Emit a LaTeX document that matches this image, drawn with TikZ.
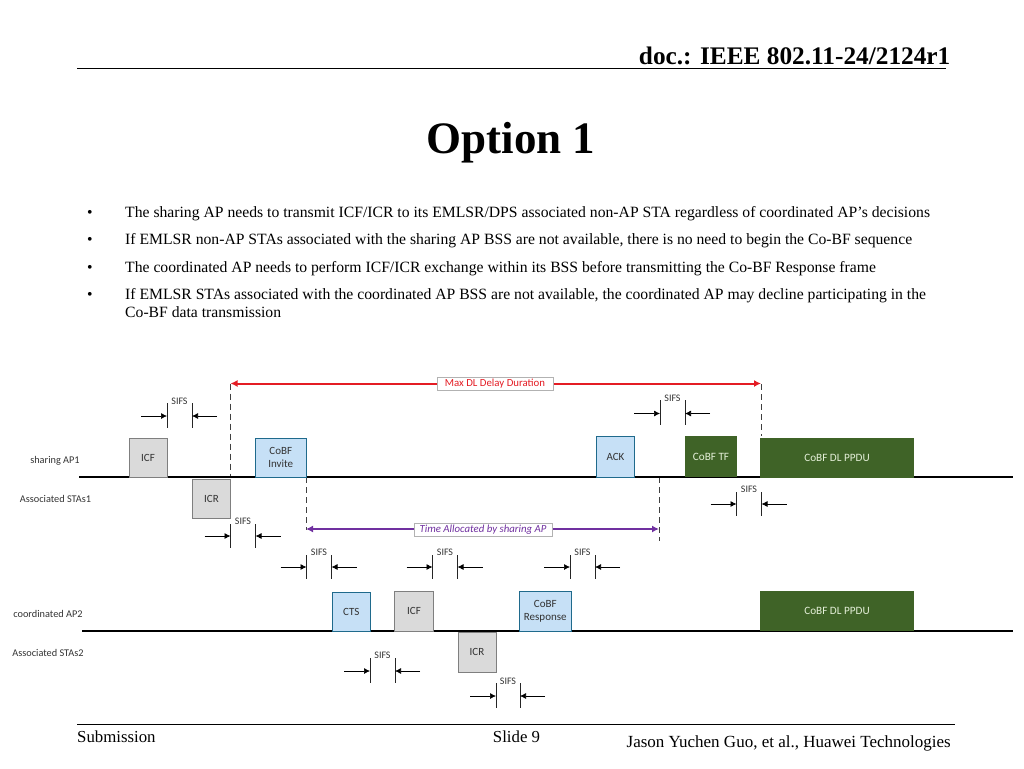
\documentclass[tikz,border=0pt]{standalone}
\usepackage{fontspec}
\setmainfont{Liberation Serif}
\newfontfamily\dfont{Carlito}
\usetikzlibrary{arrows.meta}
\newcommand{\fsz}[1]{\fontsize{#1}{#1}\selectfont}
\definecolor{gfill}{HTML}{DADADA}
\definecolor{gedge}{HTML}{7F7F7F}
\definecolor{bfill}{HTML}{C6E0F6}
\definecolor{bedge}{HTML}{1F6A8C}
\definecolor{dgreen}{HTML}{3F6327}
\definecolor{gtext}{HTML}{E4EFD8}
\definecolor{spred}{HTML}{E41C24}
\definecolor{sppurple}{HTML}{7030A0}
\definecolor{dtext}{HTML}{333333}
\tikzset{
  x=1pt,y=-1pt,
  body/.style={anchor=base west,inner sep=0,font=\fsz{15.68}},
  greybox/.style={draw=gedge,fill=gfill,line width=1pt,inner sep=0,align=center,font=\dfont\fsz{11},text=dtext},
  bluebox/.style={draw=bedge,fill=bfill,line width=1pt,inner sep=0,align=center,font=\dfont\fsz{11},text=dtext},
  greenbox/.style={draw=none,fill=dgreen,inner sep=0,align=center,font=\dfont\fsz{11.2},text=gtext},
  tl/.style={line width=2.6pt,black},
  rowlab/.style={inner sep=0,font=\dfont\fsz{10.3},text=dtext},
  sifslab/.style={inner sep=0,font=\dfont\fsz{10},text=dtext},
  tickline/.style={line width=.7pt,black!85},
  sarrow/.style={line width=.7pt,black,-{Latex[length=6pt,width=6pt]}},
  dashguide/.style={line width=.7pt,black!75,dash pattern=on 6pt off 4pt},
  spanline/.style={line width=2pt},
  spanlab/.style={draw=black!30,fill=white,line width=.7pt,inner sep=0,font=\dfont\fsz{10.8}},
}
% #1 name, #2 left x, #3 right x, #4 top y, #5 bottom y, #6 arrow y, #7 label y
\newcommand{\sifs}[7]{%
  \coordinate (#1lt) at (#2,#4); \coordinate (#1lb) at (#2,#5);
  \coordinate (#1rt) at (#3,#4); \coordinate (#1rb) at (#3,#5);
  \coordinate (#1la) at (#2,#6); \coordinate (#1ra) at (#3,#6);
  \coordinate (#1ls) at (#2-26,#6); \coordinate (#1rs) at (#3+25,#6);
  \draw[tickline] (#1lt) -- (#1lb);
  \draw[tickline] (#1rt) -- (#1rb);
  \draw[sarrow] (#1ls) -- (#1la);
  \draw[sarrow] (#1rs) -- (#1ra);
  \node[sifslab] (#1lab) at ({(#2+#3)/2},#7) {SIFS};
}
% #1 style, #2 name, #3 x1, #4 y1, #5 x2, #6 y2, #7 text
\newcommand{\frm}[7]{%
  \node[#1,minimum width={(#5)-(#3)},minimum height={(#6)-(#4)}] (#2) at ({((#3)+(#5))/2},{((#4)+(#6))/2}) {#7};
}
\begin{document}
\begin{tikzpicture}
\useasboundingbox (0,0) rectangle (1024,768);
% header & footer
\coordinate (hl) at (77,68.5); \coordinate (hr) at (946,68.5);
\coordinate (fl) at (77,724.5); \coordinate (fr) at (955,724.5);
\draw[line width=1pt] (hl) -- (hr);
\draw[line width=1.2pt] (fl) -- (fr);
\node[anchor=base east,inner sep=0,font=\bfseries\fsz{25.3}] (doc) at (950.5,64.5) {doc.: IEEE 802.11-24/2124r1};
\node[anchor=base,inner sep=0,font=\bfseries\fsz{45}] (title) at (511,153) {Option 1};
\node[anchor=base west,inner sep=0,font=\fsz{16.8}] (sub) at (77,742) {Submission};
\node[anchor=base,inner sep=0,font=\fsz{16.8}] (slide) at (516.5,742) {Slide 9};
\node[anchor=base east,inner sep=0,font=\fsz{17}] (auth) at (951,747) {Jason Yuchen Guo, et al., Huawei Technologies};
% bullets
\node[body] (b1) at (87,217) {•};
\node[body] (b2) at (87,244.5) {•};
\node[body] (b3) at (87,272) {•};
\node[body] (b4) at (87,299) {•};
\node[body] (t1) at (125,217) {The sharing AP needs to transmit ICF/ICR to its EMLSR/DPS associated non-AP STA regardless of coordinated AP’s decisions};
\node[body] (t2) at (125,244.5) {If EMLSR non-AP STAs associated with the sharing AP BSS are not available, there is no need to begin the Co-BF sequence};
\node[body] (t3) at (125,272) {The coordinated AP needs to perform ICF/ICR exchange within its BSS before transmitting the Co-BF Response frame};
\node[body] (t4) at (125,299) {If EMLSR STAs associated with the coordinated AP BSS are not available, the coordinated AP may decline participating in the};
\node[body] (t5) at (125,317) {Co-BF data transmission};
% timelines
\coordinate (a1) at (79,477); \coordinate (a2) at (1013,477);
\coordinate (c1) at (82,631); \coordinate (c2) at (1013,631);
% dashed guides
\coordinate (d1t) at (230.5,383.5); \coordinate (d1b) at (230.5,477);
\coordinate (d2t) at (306,477); \coordinate (d2b) at (306,530);
\coordinate (d3t) at (659,477); \coordinate (d3b) at (659,541);
\coordinate (d4t) at (761,384); \coordinate (d4b) at (761,436);
\draw[dashguide] (d1t) -- (d1b);
\draw[dashguide] (d2t) -- (d2b);
\draw[dashguide] (d3t) -- (d3b);
\draw[dashguide] (d4t) -- (d4b);
\draw[tl] (a1) -- (a2);
\draw[tl] (c1) -- (c2);
% frames AP1
\frm{greybox}{icfa}{129}{438}{167}{477}{ICF}
\frm{bluebox}{invite}{255.5}{438}{306}{477}{CoBF\\[1.5pt]Invite}
\frm{greybox}{icra}{192.5}{479}{230.5}{518}{ICR}
\frm{bluebox}{ack}{596.5}{436.5}{634.5}{477}{ACK}
\frm{greenbox}{tf}{685}{436}{737}{477}{CoBF TF}
\frm{greenbox}{ppdua}{760}{438}{914}{478}{CoBF DL PPDU}
% frames AP2
\frm{bluebox}{cts}{332.5}{592}{370}{631}{CTS}
\frm{greybox}{icfc}{394.5}{591.5}{433.5}{631}{ICF}
\frm{bluebox}{resp}{519.5}{591.5}{571}{631}{CoBF\\[1.5pt]Response}
\frm{greybox}{icrc}{458}{632.5}{496}{672}{ICR}
\frm{greenbox}{ppduc}{760}{591}{914}{631}{CoBF DL PPDU}
% row labels
\node[rowlab] (ra1) at (55,461) {sharing AP1};
\node[rowlab] (rs1) at (55.5,499) {Associated STAs1};
\node[rowlab] (ra2) at (48,613.5) {coordinated AP2};
\node[rowlab] (rs2) at (48,652.5) {Associated STAs2};
% spans
\coordinate (m1) at (230.5,383.5); \coordinate (m2) at (761,383.5);
\coordinate (p1) at (306,529); \coordinate (p2) at (659,529);
\draw[spanline,spred,{Latex[length=7pt,width=7pt]}-{Latex[length=7pt,width=7pt]}] (m1) -- (m2);
\draw[spanline,sppurple,{Latex[length=7pt,width=7pt]}-{Latex[length=7pt,width=7pt]}] (p1) -- (p2);
\node[spanlab,text=spred,minimum width=116pt,minimum height=13pt] (mlab) at (495,384) {Max DL Delay Duration};
\node[spanlab,text=sppurple,minimum width=138pt,minimum height=13pt] (plab) at (483,529.5) {\itshape Time Allocated by sharing AP};
% SIFS markers
\sifs{sa}{167}{192}{403}{428}{416}{401}
\sifs{sb}{230.5}{255.5}{524}{548}{536}{521}
\sifs{sc}{306.5}{331.5}{555}{579}{567}{552}
\sifs{sd}{432.5}{457.5}{555}{579}{567}{552}
\sifs{se}{570}{595}{555}{579}{567}{552}
\sifs{sf}{660}{685}{400}{425}{413.5}{398}
\sifs{sg}{736.5}{761.5}{492}{516}{504}{489}
\sifs{sh}{370}{395}{658}{683}{671}{655}
\sifs{si}{496}{520}{683}{708}{696}{681}
\end{tikzpicture}
\end{document}
